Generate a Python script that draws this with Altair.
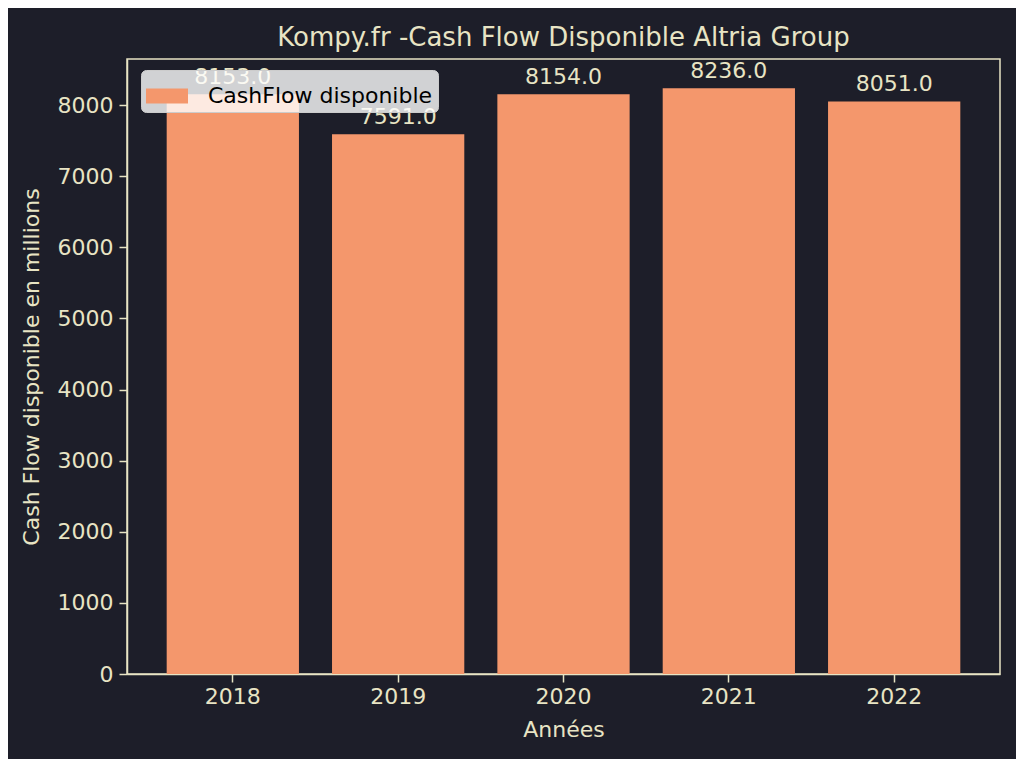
import altair as alt
import pandas as pd

years = ["2018", "2019", "2020", "2021", "2022"]
values = [8153.0, 7591.0, 8154.0, 8236.0, 8051.0]
series_name = "CashFlow disponible"
title_text = "Kompy.fr -Cash Flow Disponible Altria Group"
x_title = "Années"
y_title = "Cash Flow disponible en millions"
y_ticks = [0, 1000, 2000, 3000, 4000, 5000, 6000, 7000, 8000]

df = pd.DataFrame({"year": years, "value": values, "series": [series_name] * len(years)})
df["label"] = df["value"].map(lambda v: f"{v:.1f}")

BG = "#1d1e29"
FG = "#e8e4c4"
BAR = "#f4976c"
FONT = "DejaVu Sans"

x_enc = alt.X("year:N", title=x_title,
              scale=alt.Scale(paddingInner=0.2, paddingOuter=0.24),
              axis=alt.Axis(labelAngle=0, labelFontSize=22, titleFontSize=22,
                            labelColor=FG, titleColor=FG, tickColor=FG, domainColor=FG,
                            tickSize=8, labelPadding=4, titlePadding=12, titleFontWeight="normal",
                            labelFont=FONT, titleFont=FONT, grid=False))
y_enc = alt.Y("value:Q", title=y_title,
              scale=alt.Scale(domain=[0, 8648], nice=False, zero=True),
              axis=alt.Axis(values=y_ticks, labelFontSize=22, titleFontSize=22,
                            labelColor=FG, titleColor=FG, tickColor=FG, domainColor=FG,
                            tickSize=8, labelPadding=6, titlePadding=14, titleFontWeight="normal",
                            labelFont=FONT, titleFont=FONT, grid=False, format="d"))

bars = alt.Chart(df).mark_bar().encode(
    x=x_enc,
    y=y_enc,
    color=alt.Color("series:N",
                    scale=alt.Scale(range=[BAR]),
                    legend=alt.Legend(title=None, orient="none", legendX=14, legendY=11,
                                      symbolType="M-1,-0.36H1V0.36H-1Z", symbolSize=1764,
                                      symbolStrokeWidth=0, symbolOpacity=1,
                                      labelFontSize=22, labelFont=FONT, labelColor="#000000",
                                      labelLimit=1000, labelOffset=20,
                                      fillColor="rgba(255,255,255,0.8)",
                                      strokeColor="#cccccc", cornerRadius=5, padding=5)),
)

labels = alt.Chart(df).mark_text(fontSize=22, font=FONT, color=FG, baseline="alphabetic", dy=-10).encode(
    x=alt.X("year:N"),
    y=alt.Y("value:Q"),
    text="label:N",
)

chart = alt.layer(bars, labels).properties(
    width=873, height=615,
    title=alt.TitleParams(title_text, fontSize=26, font=FONT, color=FG, fontWeight="normal",
                          anchor="middle", offset=8),
    background=BG,
    autosize=alt.AutoSizeParams(type="none"),
    padding={"left": 119, "top": 51, "right": 16, "bottom": 85},
).configure_view(stroke=FG, strokeWidth=1.5, fill=BG).configure_axis(domainWidth=1.5, tickWidth=1.5)

chart.save("out.html", embed_options={"renderer": "svg", "actions": False})
